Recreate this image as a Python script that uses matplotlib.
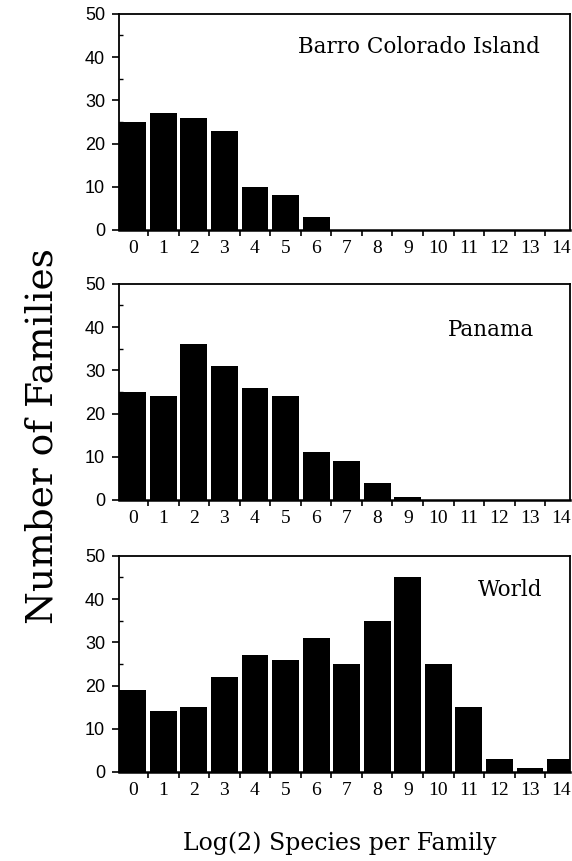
import numpy as np
import matplotlib
matplotlib.use("Agg")
import matplotlib.pyplot as plt
from matplotlib.ticker import MultipleLocator, FixedLocator

# log2 species-per-family classes
classes = list(range(15))
class_labels = [str(c) for c in classes]

bci = [25, 27, 26, 23, 10, 8, 3, 0, 0, 0, 0, 0, 0, 0, 0]
panama = [25, 24, 36, 31, 26, 24, 11, 9, 4, 0.7, 0, 0, 0, 0, 0]
world = [19, 14, 15, 22, 27, 26, 31, 25, 35, 45, 25, 15, 3, 1, 3]

panels = [
    ("Barro Colorado Island", bci, 0.7329, (0.933, 0.846)),
    ("Panama", panama, 0.4193, (0.922, 0.787)),
    ("World", world, 0.1034, (0.94, 0.843)),
]

serif = "DejaVu Serif"

fig = plt.figure(figsize=(5.72, 8.61), dpi=100)

for name, counts, bottom, (tx, ty) in panels:
    ax = fig.add_axes([0.208, bottom, 0.788, 0.251])
    ax.bar(classes, counts, width=0.88, color="black")
    ax.set_xlim(-0.45, 14.3)
    ax.set_ylim(0, 50)

    ax.yaxis.set_major_locator(MultipleLocator(10))
    ax.yaxis.set_minor_locator(MultipleLocator(5))
    ax.tick_params(axis="y", which="major", direction="out", length=5, width=1.2,
                   labelsize=13, pad=5)
    ax.tick_params(axis="y", which="minor", direction="in", length=3, width=1)
    for lab in ax.get_yticklabels():
        lab.set_fontfamily("Liberation Sans")

    ax.set_xticks(classes)
    ax.set_xticklabels(class_labels, fontfamily="Liberation Serif", fontsize=14)
    ax.xaxis.set_minor_locator(FixedLocator(np.arange(0.5, 14.5, 1)))
    ax.tick_params(axis="x", which="major", length=0, pad=7)
    ax.tick_params(axis="x", which="minor", direction="out", length=4, width=1.2)

    for side in ax.spines.values():
        side.set_linewidth(1.3)
    ax.spines["bottom"].set_linewidth(1.8)

    ax.text(tx, ty, name, transform=ax.transAxes, ha="right", va="center",
            fontfamily=serif, fontsize=15.5)

fig.text(0.075, 0.494, "Number of Families", rotation=90, ha="center", va="center",
         fontfamily=serif, fontsize=27)
fig.text(0.594, 0.021, "Log(2) Species per Family", ha="center", va="center",
         fontfamily=serif, fontsize=17)

fig.savefig("out.png", dpi=100)
